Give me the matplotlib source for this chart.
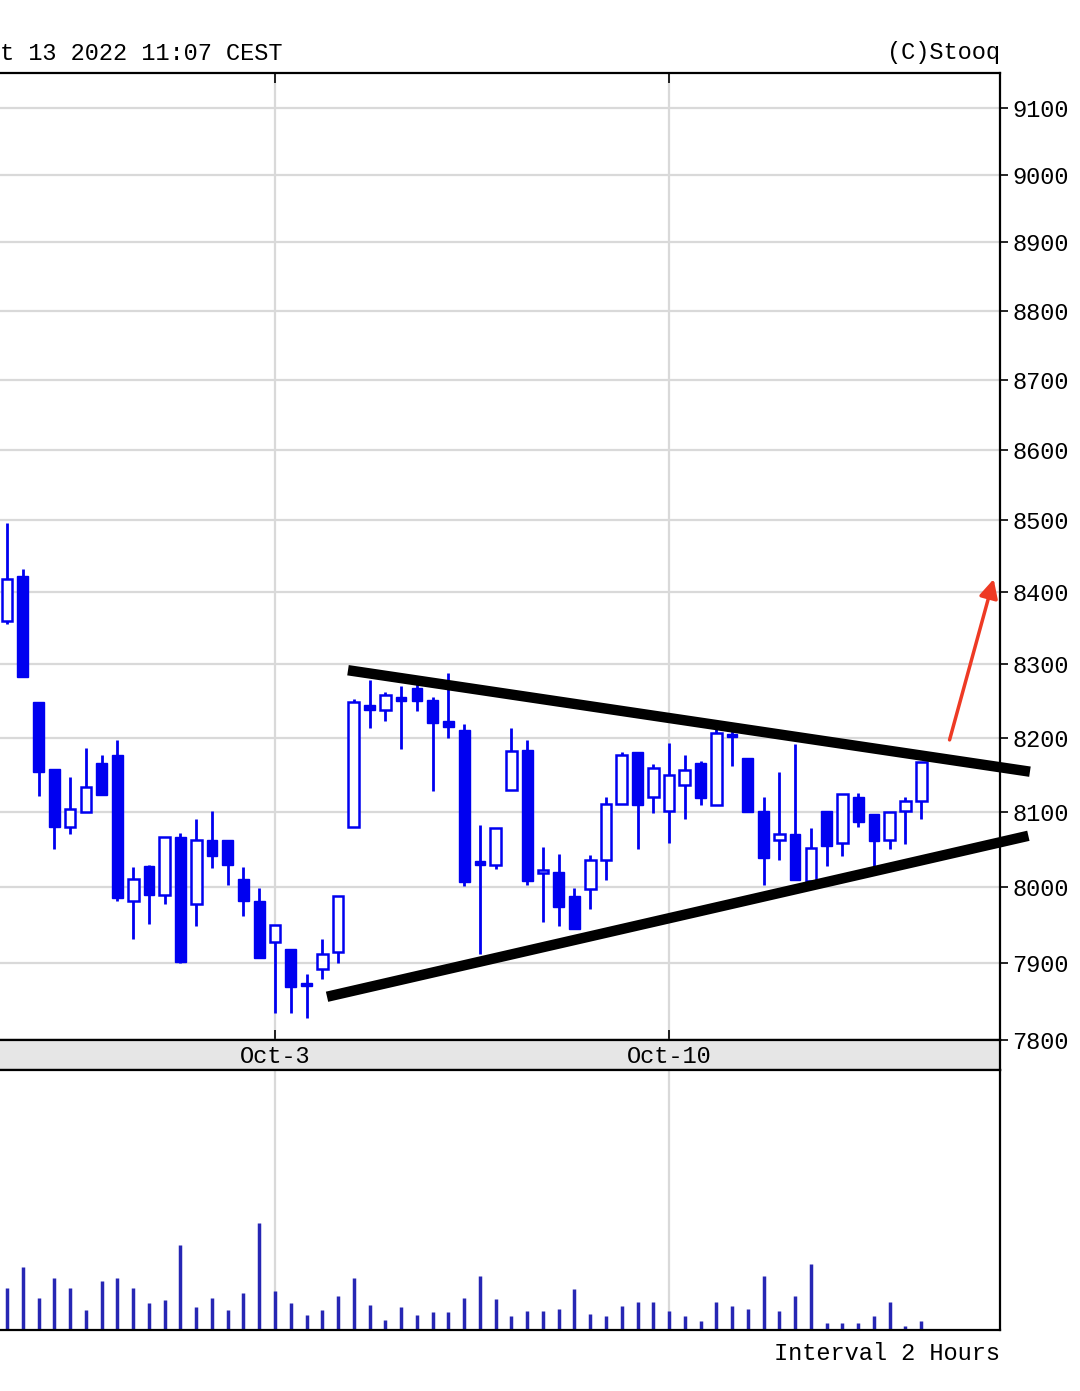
import numpy as np
import matplotlib
matplotlib.use("Agg")
import matplotlib.pyplot as plt
from matplotlib.ticker import NullLocator, NullFormatter, FixedLocator

# bar index (2h bars, 5 per trading day, 0 = first bar of Oct-3)
bars = list(range(-17, 42))
opens = [8360, 8422, 8249, 8157, 8080, 8100, 8166, 8176, 7982, 8028, 7990, 8066, 7978, 8062, 8062, 8011, 7982,
         7927, 7918, 7874, 7892, 7915, 8080, 8245, 8237, 8255, 8267, 8251, 8222, 8211, 8034, 8029,
         8129, 8183, 8018, 8020, 7988, 7997, 8036, 8110, 8180, 8120, 8101, 8136, 8166, 8109, 8205,
         8172, 8101, 8062, 8071, 8008, 8101, 8058, 8120, 8097, 8063, 8101, 8114]
highs = [8497, 8432, 8249, 8157, 8147, 8186, 8176, 8197, 8027, 8029, 8066, 8072, 8091, 8101, 8062, 8027, 7998,
         7950, 7918, 7886, 7931, 7988, 8252, 8278, 8262, 8271, 8275, 8255, 8288, 8219, 8082, 8078,
         8213, 8197, 8053, 8044, 7998, 8042, 8120, 8180, 8180, 8164, 8193, 8176, 8169, 8217, 8210,
         8172, 8120, 8154, 8192, 8078, 8101, 8124, 8125, 8097, 8100, 8120, 8167]
lows = [8355, 8283, 8121, 8050, 8070, 8100, 8123, 7981, 7932, 7951, 7977, 7900, 7949, 8025, 8003, 7962, 7907,
        7835, 7835, 7828, 7879, 7900, 8080, 8213, 8223, 8184, 8236, 8128, 8200, 8001, 7912, 8024,
        8129, 8002, 7954, 7948, 7945, 7971, 8009, 8110, 8051, 8099, 8058, 8090, 8109, 8109, 8161,
        8100, 8002, 8036, 8009, 8008, 8028, 8041, 8080, 8028, 8051, 8057, 8090]
closes = [8418, 8283, 8154, 8080, 8104, 8134, 8123, 7986, 8010, 7990, 8066, 7901, 8062, 8041, 8029, 7981, 7907,
          7950, 7869, 7870, 7912, 7988, 8249, 8237, 8258, 8250, 8250, 8220, 8215, 8006, 8029, 8078,
          8182, 8008, 8022, 7974, 7945, 8036, 8110, 8176, 8109, 8159, 8149, 8156, 8119, 8206, 8201,
          8100, 8039, 8070, 8009, 8052, 8054, 8124, 8087, 8061, 8100, 8114, 8167]
volumes = [41, 62, 31, 51, 41, 19, 48, 51, 41, 26, 29, 84, 22, 31, 19, 36, 106,
           38, 26, 14, 19, 33, 51, 24, 9, 22, 14, 17, 17, 31, 53, 30,
           13, 18, 18, 20, 40, 15, 13, 23, 27, 27, 18, 13, 8, 27, 23,
           20, 53, 18, 33, 65, 6, 6, 6, 13, 27, 3, 8]

price_ticks = list(range(7800, 9101, 100))
date_pos = [0, 25]
date_labels = ["Oct-3", "Oct-10"]

# hand-drawn triangle lines and breakout arrow (bar index, price)
upper_line_x = [4.63, 47.9]
upper_line_y = [8292, 8154]
lower_line_x = [3.3, 47.8]
lower_line_y = [7856, 8068]
arrow_from = (42.8, 8197)
arrow_to = (45.6, 8418)

FONT = ["Liberation Mono", "DejaVu Sans Mono"]
BLUE = "#0000f0"
VOLBLUE = "#2626b4"
GRID = "#d9d9d9"

W, H = 1080, 1391
fig = plt.figure(figsize=(W / 100, H / 100), dpi=100)
plt.rcParams["font.family"] = FONT

xmin, xmax = -17.45, 46.0
right = 1000 / W
ax = fig.add_axes([0, (H - 1040) / H, right, (1040 - 73) / H])
band = fig.add_axes([0, (H - 1070) / H, right, 30 / H])
axv = fig.add_axes([0, (H - 1330) / H, right, 260 / H])

# price panel
o = np.array(opens); c = np.array(closes)
up = c >= o
ax.vlines(bars, lows, highs, color=BLUE, lw=2.0, zorder=2)
bx = np.array(bars)
ax.bar(bx[up], (c - o)[up], bottom=o[up], width=0.68, facecolor="white",
       edgecolor=BLUE, linewidth=1.8, zorder=3)
ax.bar(bx[~up], (o - c)[~up], bottom=c[~up], width=0.68, facecolor=BLUE,
       edgecolor=BLUE, linewidth=1.0, zorder=3)

ax.set_yscale("log")
ax.set_ylim(7800, 9153)
ax.set_xlim(xmin, xmax)
ax.yaxis.set_major_locator(FixedLocator(price_ticks))
ax.yaxis.set_minor_locator(NullLocator())
ax.yaxis.set_minor_formatter(NullFormatter())
ax.set_yticklabels([str(p) for p in price_ticks])
ax.yaxis.tick_right()
ax.tick_params(axis="y", direction="out", length=6, width=1.2, labelsize=17, pad=3)
ax.set_xticks(date_pos)
ax.tick_params(axis="x", top=True, bottom=True, direction="in", length=7, width=1.2,
               labelbottom=False, labeltop=False)
ax.grid(True, color=GRID, lw=1.6, zorder=0)
ax.set_axisbelow(True)
ax.spines["left"].set_visible(False)
for s in ["top", "right", "bottom"]:
    ax.spines[s].set_linewidth(1.6)

ax.plot(upper_line_x, upper_line_y, color="black", lw=7.5, solid_capstyle="butt", clip_on=False, zorder=5)
ax.plot(lower_line_x, lower_line_y, color="black", lw=7.5, solid_capstyle="butt", clip_on=False, zorder=5)
ax.annotate("", xy=arrow_to, xytext=arrow_from, annotation_clip=False,
            arrowprops=dict(arrowstyle="-|>", color="#ee3a24", lw=2.5, mutation_scale=28,
                            shrinkA=0, shrinkB=0), zorder=6)

# date band
band.set_facecolor("#e6e6e6")
band.set_xlim(xmin, xmax)
band.set_ylim(0, 1)
band.set_xticks([]); band.set_yticks([])
band.spines["left"].set_visible(False)
for s in ["top", "right", "bottom"]:
    band.spines[s].set_linewidth(1.6)
for p, lab in zip(date_pos, date_labels):
    band.text(p, 0.45, lab, ha="center", va="center", fontsize=17)

# volume panel
axv.vlines(bars, 0, volumes, color=VOLBLUE, lw=2.5, zorder=2)
axv.set_xlim(xmin, xmax)
axv.set_ylim(-1, 259)
axv.set_yticks([])
axv.set_xticks(date_pos)
axv.tick_params(axis="x", length=0, labelbottom=False)
axv.grid(True, axis="x", color=GRID, lw=1.6, zorder=0)
axv.set_axisbelow(True)
axv.spines["left"].set_visible(False)
for s in ["top", "right", "bottom"]:
    axv.spines[s].set_linewidth(1.6)

fig.text(0, 1 - 53 / H, "t 13 2022 11:07 CEST", ha="left", va="center", fontsize=17)
fig.text(right, 1 - 53 / H, "(C)Stooq", ha="right", va="center", fontsize=17)
fig.text(right, 1 - 1354 / H, "Interval 2 Hours", ha="right", va="center", fontsize=17)

fig.savefig("out.png", dpi=100, facecolor="white")
